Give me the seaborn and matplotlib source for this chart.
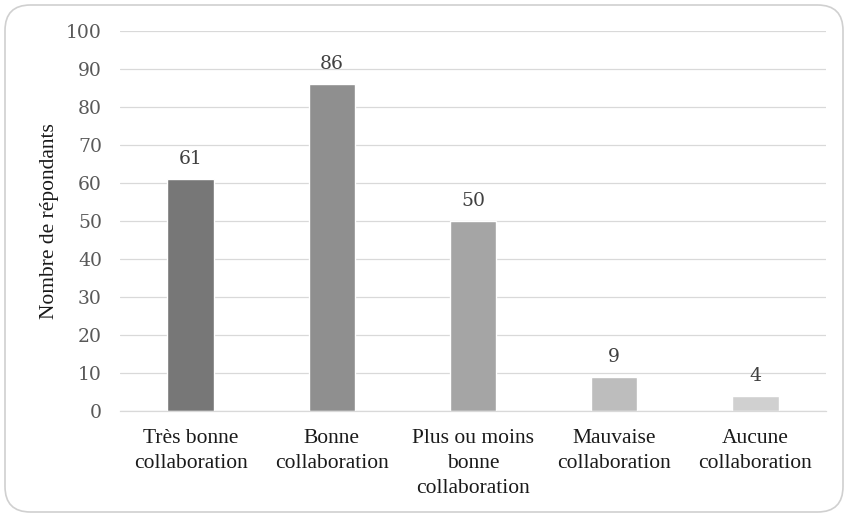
import matplotlib
matplotlib.use("Agg")
import matplotlib.pyplot as plt
import seaborn as sns
import pandas as pd
from matplotlib.patches import FancyBboxPatch

categories = ["Très bonne\ncollaboration", "Bonne\ncollaboration",
              "Plus ou moins\nbonne\ncollaboration", "Mauvaise\ncollaboration",
              "Aucune\ncollaboration"]
values = [61, 86, 50, 9, 4]
colors = ["#777777", "#8f8f8f", "#a5a5a5", "#bdbdbd", "#d0d0d0"]
yticks = list(range(0, 101, 10))

sns.set_theme(style="white")
df = pd.DataFrame({"cat": categories, "val": values})

fig = plt.figure(figsize=(8.48, 5.17), dpi=100)
ax = fig.add_axes([120/848, 1-411/517, 706/848, 380/517])

sns.barplot(data=df, x="cat", y="val", hue="cat", palette=colors, legend=False,
            width=0.33, ax=ax, saturation=1)

ax.set_ylim(0, 100)
ax.set_xlim(-0.5, 4.5)
ax.set_yticks(yticks)
ax.yaxis.grid(True, color="#d9d9d9", linewidth=0.9)
ax.set_axisbelow(True)
for s in ["top", "right", "left"]:
    ax.spines[s].set_visible(False)
ax.spines["bottom"].set_color("#d9d9d9")
ax.spines["bottom"].set_linewidth(0.9)
ax.tick_params(axis="y", length=0, pad=13, labelsize=13.5, labelcolor="#595959")
ax.tick_params(axis="x", length=0, pad=13, labelsize=15.5, labelcolor="#1a1a1a")
for lab in ax.get_yticklabels():
    lab.set_family("DejaVu Serif")
for lab in ax.get_xticklabels():
    lab.set_family("Liberation Serif")
    lab.set_linespacing(1.42)
ax.set_xlabel("")
ax.set_ylabel("Nombre de répondants", family="Liberation Serif", fontsize=15.5,
              color="#1a1a1a", labelpad=5)

for i, v in enumerate(values):
    ax.annotate(str(v), (i, v), xytext=(0, 8), textcoords="offset points",
                ha="center", va="bottom", fontsize=13.5, color="#404040",
                family="DejaVu Serif")

border = FancyBboxPatch((5/848, 5/517), 838/848, 507/517,
                        boxstyle="round,pad=0,rounding_size=0.03",
                        transform=fig.transFigure, fill=False,
                        edgecolor="#d0d0d0", linewidth=1.2,
                        mutation_aspect=848/517)
fig.patches.append(border)

fig.savefig("out.png", dpi=100)
